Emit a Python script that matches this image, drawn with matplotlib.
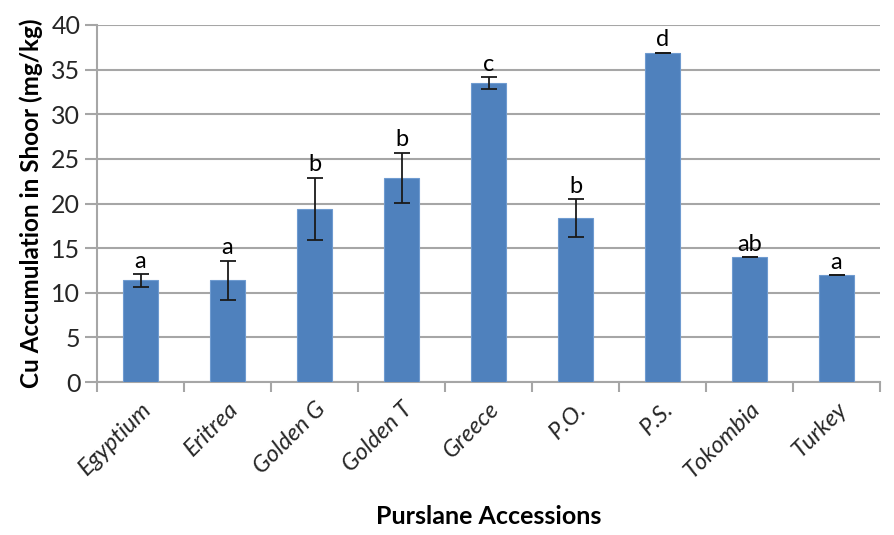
import matplotlib.pyplot as plt
import numpy as np

plt.rcParams['font.family'] = ['Lato', 'DejaVu Sans']

accessions = ['Egyptium', 'Eritrea', 'Golden G', 'Golden T', 'Greece',
              'P.O.', 'P.S.', 'Tokombia', 'Turkey']
cu_shoot = [11.4, 11.4, 19.4, 22.9, 33.5, 18.4, 36.9, 14.0, 12.0]
cu_err = [0.7, 2.2, 3.5, 2.8, 0.7, 2.1, 0.0, 0.0, 0.0]
groups = ['a', 'a', 'b', 'b', 'c', 'b', 'd', 'ab', 'a']

grid_col = '#a6a6a6'

fig = plt.figure(figsize=(8.94, 5.35), dpi=100)
ax = fig.add_axes([97 / 894, 1 - 382 / 535, 783 / 894, 357 / 535])

x = np.arange(len(accessions))
ax.bar(x, cu_shoot, width=0.41, color='#4f81bd', edgecolor='#6f9bd0',
       linewidth=0.8, zorder=3)
ax.errorbar(x, cu_shoot, yerr=cu_err, fmt='none', ecolor='#1a1a1a',
            elinewidth=1.3, capsize=6, capthick=1.3, zorder=4)

# significance letters above each bar
for xi, v, e, g in zip(x, cu_shoot, cu_err, groups):
    ax.text(xi, v + e + 0.25, g, ha='center', va='bottom', fontsize=17,
            color='black')

ax.set_xlim(-0.5, len(accessions) - 0.5)
ax.set_ylim(0, 40)
ax.set_yticks(np.arange(0, 41, 5))
ax.yaxis.grid(True, color=grid_col, linewidth=1.5, zorder=0)
ax.tick_params(axis='y', length=9, width=1.5, color=grid_col,
               labelsize=18, labelcolor='#262626', pad=3)

ax.set_xticks(x)
ax.set_xticklabels(accessions, rotation=45, ha='right', rotation_mode='anchor',
                   fontsize=17, style='italic', color='#262626')
ax.tick_params(axis='x', length=0, pad=12)
ax.set_xticks(np.arange(-0.5, len(accessions)), minor=True)
ax.tick_params(axis='x', which='minor', length=7, width=1.5, color=grid_col)

for side in ['top', 'right']:
    ax.spines[side].set_visible(False)
for side in ['left', 'bottom']:
    ax.spines[side].set_color(grid_col)
    ax.spines[side].set_linewidth(1.5)

ax.set_ylabel('Cu Accumulation in Shoor (mg/kg)', fontsize=17.5,
              fontweight='bold', labelpad=6)
ax.set_xlabel('Purslane Accessions', fontsize=18, fontweight='bold',
              labelpad=16)

fig.savefig('out.png', dpi=100)
